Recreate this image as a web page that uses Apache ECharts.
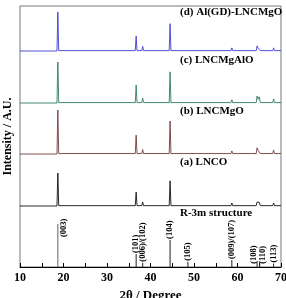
<!DOCTYPE html>
<html>
<head>
<meta charset="utf-8">
<script src="https://cdn.jsdelivr.net/npm/echarts@6/dist/echarts.min.js"></script>
<style>
  html, body { margin: 0; padding: 0; background: #fff; }
  #chart { width: 286px; height: 298px; }
</style>
</head>
<body>
<div id="chart"></div>
<script>
// XRD patterns, intensity relative to the (003) peak = 100
const alGdLncmgo = [
  [10, 0], [18.5, 0], [18.7, 100], [18.9, 1], [36.5, 1], [36.7, 38], [36.9, 1],
  [38.0, 1], [38.2, 12], [38.4, 1], [44.3, 1], [44.5, 70], [44.7, 1],
  [48.4, 1], [48.6, 5], [48.8, 1], [58.5, 1], [58.7, 8], [58.9, 1],
  [64.3, 1], [64.5, 13], [64.75, 7], [65.0, 12], [65.25, 1], [68.1, 1], [68.3, 8], [68.5, 1], [70, 1]
];
const lncmgalo = [
  [10, 0], [18.5, 0], [18.7, 100], [18.9, 1], [36.5, 1], [36.7, 44], [36.9, 1],
  [38.0, 1], [38.2, 12], [38.4, 1], [44.3, 1], [44.5, 76], [44.7, 1],
  [48.4, 1], [48.6, 5], [48.8, 1], [58.5, 1], [58.7, 8], [58.9, 1],
  [64.3, 1], [64.5, 17], [64.75, 9], [65.0, 15], [65.25, 1], [68.1, 1], [68.3, 10], [68.5, 1], [70, 1]
];
const lncmgo = [
  [10, 0], [18.5, 0], [18.7, 100], [18.9, 1], [36.5, 1], [36.7, 43], [36.9, 1],
  [38.0, 1], [38.2, 10], [38.4, 1], [44.3, 1], [44.5, 75], [44.7, 1],
  [48.4, 1], [48.6, 5], [48.8, 1], [58.5, 1], [58.7, 7], [58.9, 1],
  [64.3, 1], [64.5, 14], [64.75, 8], [65.0, 12], [65.25, 1], [68.1, 1], [68.3, 9], [68.5, 1], [70, 1]
];
const lnco = [
  [10, 0], [18.5, 0], [18.7, 100], [18.9, 1], [36.5, 1], [36.7, 42], [36.9, 1],
  [38.0, 1], [38.2, 12], [38.4, 1], [44.3, 1], [44.5, 76], [44.7, 1],
  [48.4, 1], [48.6, 6], [48.8, 1], [58.5, 1], [58.7, 9], [58.9, 1],
  [64.3, 1], [64.5, 12], [64.75, 7], [65.0, 11], [65.25, 1], [68.1, 1], [68.3, 9], [68.5, 1], [70, 1]
];

// R-3m reference lines
const refPos = [18.7, 36.7, 38.2, 44.5, 48.6, 58.7, 64.5, 65.1, 68.3];
const refInt = [100, 30, 10, 63, 12, 16, 12, 12, 8];
const refLabels = ['(003)', '(101)', '(006)/(102)', '(104)', '(105)', '(009)/(107)', '(108)', '(110)', '(113)'];

const xTicks = [10, 20, 30, 40, 50, 60, 70];
const sampleNames = ['(d) Al(GD)-LNCMgO', '(c) LNCMgAlO', '(b) LNCMgO', '(a) LNCO', 'R-3m structure'];

const serif = '"Liberation Serif", "DejaVu Serif", serif';
const chart = echarts.init(document.getElementById('chart'));

const L = 20, R = 5;
const base = { left: L, right: R, outerBoundsMode: 'none', containLabel: false };
const grids = [
  Object.assign({ top: 6, bottom: 31, show: true, borderColor: '#777', borderWidth: 1 }, base),
  Object.assign({ top: 12, bottom: 247 }, base),
  Object.assign({ top: 62, bottom: 195 }, base),
  Object.assign({ top: 110, bottom: 144 }, base),
  Object.assign({ top: 173, bottom: 92 }, base),
  Object.assign({ top: 224, bottom: 31 }, base)
];

const xAxes = grids.map((g, i) => ({
  type: 'value', gridIndex: i, min: 10, max: 70, interval: 5,
  show: i === 0,
  axisLine: { show: true, lineStyle: { color: '#000', width: 1 } },
  axisTick: { show: true, inside: true, length: 4, lineStyle: { color: '#000' } },
  axisLabel: {
    margin: 5, color: '#000', fontFamily: serif, fontWeight: 'bold', fontSize: 12,
    formatter: v => (xTicks.indexOf(v) >= 0 ? String(v) : '')
  },
  splitLine: { show: false },
  name: i === 0 ? '2θ / Degree' : '',
  nameLocation: 'middle', nameGap: 21,
  nameTextStyle: { color: '#000', fontFamily: serif, fontWeight: 'bold', fontSize: 13, verticalAlign: 'top' }
}));

const yAxes = grids.map((g, i) => ({
  type: 'value', gridIndex: i, min: 0, max: 100, show: i === 0,
  axisLine: { show: false }, axisTick: { show: false }, axisLabel: { show: false },
  splitLine: { show: false },
  name: i === 0 ? 'Intensity / A.U.' : '',
  nameLocation: 'middle', nameGap: 6, nameRotate: 90,
  nameTextStyle: { color: '#000', fontFamily: serif, fontWeight: 'bold', fontSize: 12 }
}));

const traces = [
  { data: alGdLncmgo, color: '#3c3cd2' },
  { data: lncmgalo, color: '#2f7e5e' },
  { data: lncmgo, color: '#733c3c' },
  { data: lnco, color: '#111' }
];

const series = traces.map((t, i) => ({
  type: 'line', xAxisIndex: i + 1, yAxisIndex: i + 1, data: t.data,
  showSymbol: false, clip: false, animation: false,
  lineStyle: { color: t.color, width: 0.9 }
}));

// label nudges (text frame: +x is up, +y is right after the 90° turn)
const labelShift = { 0: [-14, 6], 6: [-3, -3], 7: [-3, 3] };

series.push({
  type: 'bar', xAxisIndex: 5, yAxisIndex: 5, barWidth: 1, animation: false,
  data: refPos.map((x, i) => ({
    value: [x, refInt[i]],
    itemStyle: { color: i === 0 ? '#666' : '#222' },
    label: labelShift[i] ? { offset: labelShift[i] } : undefined
  })),
  label: {
    show: true, position: 'top', rotate: 90, align: 'left', verticalAlign: 'middle', distance: 1,
    color: '#000', fontFamily: serif, fontWeight: 'bold', fontSize: 8.5,
    formatter: p => refLabels[p.dataIndex]
  }
});

const labelY = [14, 62, 113, 164, 215];
const graphic = sampleNames.map((s, i) => ({
  type: 'text', left: 180, top: labelY[i] - 7,
  style: { text: s, fill: '#000', font: 'bold 11px ' + serif }
}));

chart.setOption({
  animation: false,
  grid: grids,
  xAxis: xAxes,
  yAxis: yAxes,
  series: series,
  graphic: graphic
});
</script>
</body>
</html>
